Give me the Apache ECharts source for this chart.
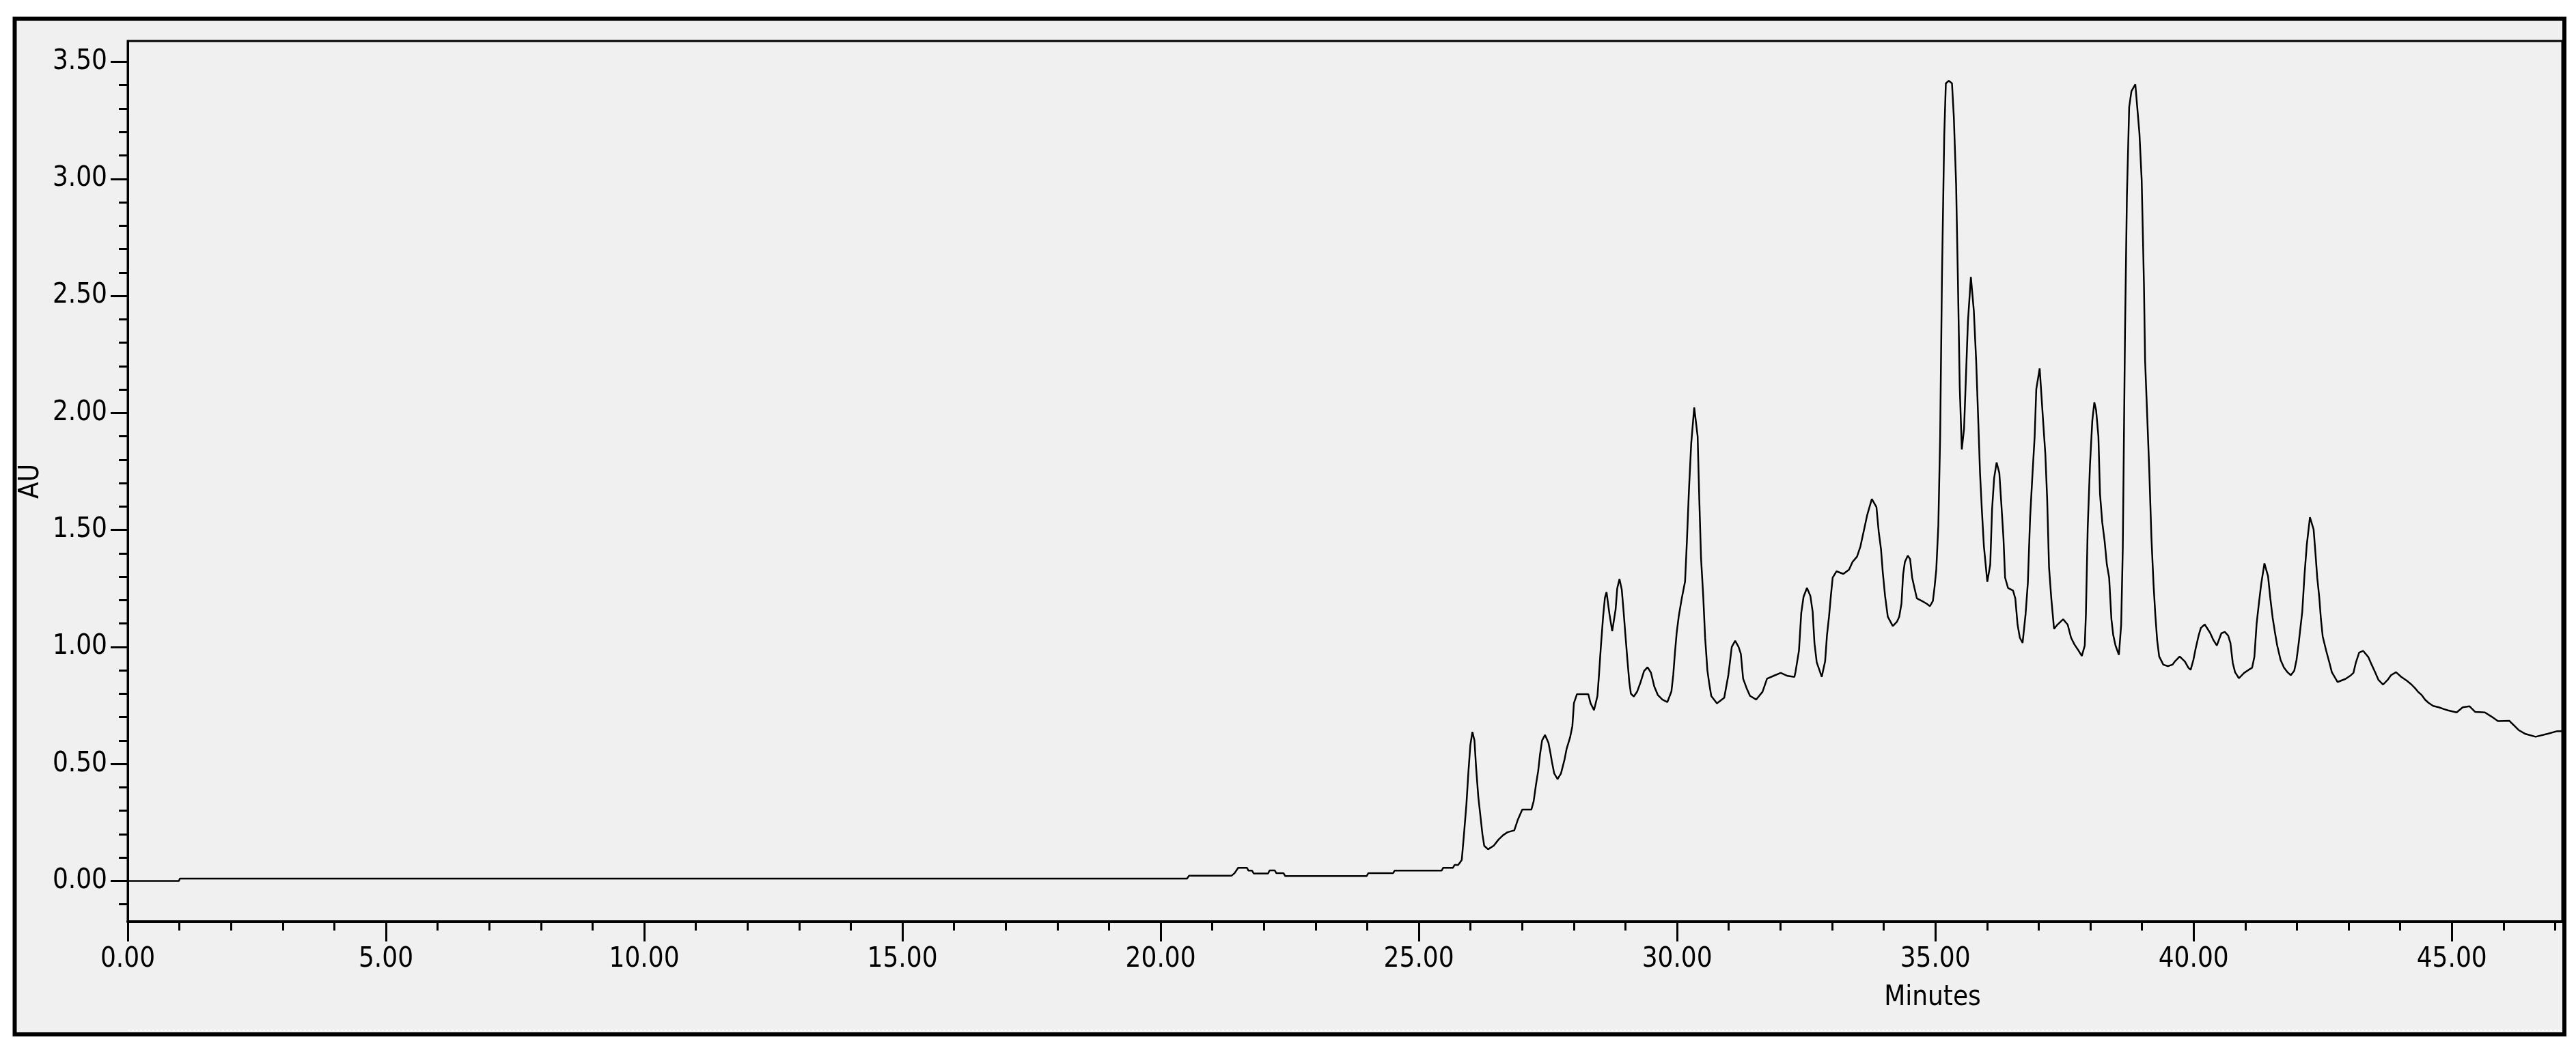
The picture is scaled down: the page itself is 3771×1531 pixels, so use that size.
<!DOCTYPE html>
<html>
<head>
<meta charset="utf-8">
<script src="https://cdn.jsdelivr.net/npm/echarts@6/dist/echarts.min.js"></script>
<style>
  html, body { margin: 0; padding: 0; background: #ffffff; }
  #chart { width: 3771px; height: 1531px; }
</style>
</head>
<body>
<div id="chart"></div>
<script>
// ---- data ----
const timeMin = [
  0, 0.99, 1.01, 20.51, 20.55, 21.37, 21.43, 21.50, 21.67, 21.70, 21.77, 21.80, 22.08, 22.11, 22.21, 22.24, 22.38, 22.41,
  23.99, 24.02, 24.50, 24.53, 25.44, 25.47, 25.66, 25.69, 25.76, 25.80, 25.83,
  25.85, 25.877, 25.921, 25.957, 25.996, 26.036, 26.076, 26.106, 26.150, 26.195, 26.230, 26.265, 26.340, 26.450, 26.539,
  26.627, 26.715, 26.847, 26.913, 27.001, 27.178, 27.222, 27.266, 27.310, 27.345, 27.385, 27.442, 27.509, 27.544, 27.575,
  27.619, 27.685, 27.751, 27.817, 27.861, 27.927, 27.972, 28.002, 28.060, 28.170, 28.280, 28.324, 28.391, 28.457, 28.487,
  28.523, 28.567, 28.602, 28.633, 28.690, 28.743, 28.809, 28.840, 28.884, 28.928, 28.964, 28.999, 29.039, 29.074, 29.105,
  29.162, 29.228, 29.294, 29.360, 29.427, 29.493, 29.559, 29.625, 29.713, 29.810, 29.890, 29.925, 29.956, 29.991, 30.031,
  30.088, 30.154, 30.189, 30.229, 30.273, 30.331, 30.397, 30.428, 30.463, 30.507, 30.542, 30.586, 30.617, 30.661, 30.771,
  30.912, 30.992, 31.058, 31.124, 31.190, 31.234, 31.278, 31.345, 31.411, 31.530, 31.653, 31.741, 31.874, 32.006, 32.138,
  32.271, 32.293, 32.359, 32.403, 32.448, 32.514, 32.580, 32.624, 32.659, 32.703, 32.800, 32.866, 32.902, 32.941, 32.977,
  33.012, 33.087, 33.219, 33.329, 33.396, 33.484, 33.550, 33.638, 33.682, 33.770, 33.859, 33.903, 33.947, 33.982, 34.026,
  34.079, 34.176, 34.255, 34.300, 34.344, 34.375, 34.410, 34.467, 34.511, 34.551, 34.595, 34.643, 34.740, 34.829, 34.895,
  34.952, 34.983, 35.018, 35.058, 35.093, 35.128, 35.172, 35.203, 35.261, 35.322, 35.358, 35.402, 35.437, 35.472, 35.512,
  35.556, 35.591, 35.631, 35.688, 35.745, 35.790, 35.830, 35.865, 35.900, 35.940, 36.006, 36.063, 36.098, 36.138, 36.186,
  36.239, 36.275, 36.319, 36.350, 36.407, 36.504, 36.548, 36.592, 36.636, 36.689, 36.747, 36.791, 36.835, 36.879, 36.923,
  36.954, 37.020, 37.086, 37.130, 37.165, 37.201, 37.245, 37.298, 37.364, 37.474, 37.562, 37.628, 37.694, 37.761, 37.836,
  37.893, 37.915, 37.950, 37.994, 38.039, 38.078, 38.113, 38.157, 38.188, 38.232, 38.277, 38.321, 38.365, 38.409, 38.444,
  38.488, 38.554, 38.598, 38.629, 38.673, 38.709, 38.753, 38.797, 38.872, 38.951, 38.995, 39.039, 39.061, 39.105, 39.140,
  39.184, 39.224, 39.259, 39.295, 39.334, 39.414, 39.502, 39.590, 39.634, 39.731, 39.833, 39.899, 39.943, 39.996, 40.040,
  40.097, 40.141, 40.216, 40.318, 40.384, 40.450, 40.538, 40.604, 40.670, 40.714, 40.759, 40.803, 40.878, 40.979, 41.067,
  41.133, 41.177, 41.221, 41.266, 41.310, 41.372, 41.442, 41.486, 41.530, 41.574, 41.619, 41.685, 41.751, 41.817, 41.883,
  41.949, 41.993, 42.037, 42.104, 42.148, 42.192, 42.253, 42.324, 42.359, 42.394, 42.434, 42.465, 42.500, 42.566, 42.632,
  42.677, 42.787, 42.941, 43.029, 43.095, 43.140, 43.206, 43.285, 43.382, 43.448, 43.514, 43.580, 43.669, 43.757, 43.823,
  43.920, 44.021, 44.132, 44.220, 44.286, 44.352, 44.418, 44.484, 44.550, 44.639, 44.749, 44.837, 44.925, 45.093, 45.212,
  45.344, 45.454, 45.640, 45.763, 45.895, 46.116, 46.160, 46.226, 46.292, 46.416, 46.623, 46.857, 47.042, 47.143
];
const absorbanceAU = [
  0, 0, 0.01, 0.01, 0.022, 0.022, 0.033, 0.056, 0.056, 0.044, 0.044, 0.032, 0.032, 0.045, 0.045, 0.033, 0.033, 0.021,
  0.021, 0.033, 0.033, 0.044, 0.044, 0.056, 0.056, 0.068, 0.068, 0.08, 0.09,
  0.14, 0.21, 0.33, 0.46, 0.58, 0.637, 0.60, 0.49, 0.36, 0.27, 0.20, 0.15, 0.135, 0.151, 0.176,
  0.195, 0.208, 0.216, 0.26, 0.305, 0.305, 0.34, 0.41, 0.47, 0.54, 0.60, 0.624, 0.59, 0.55, 0.51,
  0.46, 0.435, 0.459, 0.516, 0.565, 0.613, 0.662, 0.76, 0.798, 0.798, 0.798, 0.759, 0.73, 0.79, 0.88,
  1.00, 1.13, 1.21, 1.234, 1.14, 1.067, 1.16, 1.25, 1.29, 1.245, 1.15, 1.05, 0.94, 0.85, 0.80,
  0.788, 0.81, 0.85, 0.897, 0.913, 0.89, 0.83, 0.795, 0.775, 0.764, 0.81, 0.88, 0.97, 1.06, 1.13,
  1.205, 1.28, 1.45, 1.67, 1.87, 2.023, 1.90, 1.64, 1.38, 1.21, 1.04, 0.90, 0.85, 0.79, 0.759,
  0.783, 0.88, 1.00, 1.026, 1.00, 0.97, 0.864, 0.824, 0.791, 0.775, 0.808, 0.864, 0.877, 0.889, 0.876,
  0.872, 0.894, 0.984, 1.144, 1.214, 1.252, 1.218, 1.151, 1.017, 0.934, 0.872, 0.939, 1.051, 1.129, 1.218,
  1.296, 1.323, 1.312, 1.330, 1.363, 1.386, 1.43, 1.52, 1.565, 1.632, 1.598, 1.493, 1.419, 1.319, 1.218,
  1.129, 1.089, 1.107, 1.129, 1.185, 1.308, 1.363, 1.390, 1.375, 1.296, 1.252, 1.207, 1.196, 1.185, 1.174,
  1.196, 1.252, 1.330, 1.520, 1.90, 2.581, 3.185, 3.408, 3.419, 3.408, 3.263, 2.977, 2.566, 2.112, 1.844,
  1.933, 2.146, 2.391, 2.581, 2.436, 2.224, 1.971, 1.743, 1.587, 1.430, 1.278, 1.352, 1.587, 1.721, 1.788,
  1.743, 1.620, 1.464, 1.296, 1.252, 1.241, 1.207, 1.095, 1.039, 1.017, 1.140, 1.274, 1.553, 1.732, 1.900,
  2.101, 2.190, 1.967, 1.822, 1.632, 1.341, 1.207, 1.077, 1.095, 1.118, 1.095, 1.039, 1.010, 0.988, 0.961,
  1.006, 1.140, 1.509, 1.777, 1.967, 2.045, 2.011, 1.900, 1.654, 1.531, 1.453, 1.352, 1.296, 1.118, 1.051,
  1.006, 0.966, 1.095, 1.419, 2.358, 2.928, 3.307, 3.375, 3.404, 3.196, 2.995, 2.548, 2.224, 1.97, 1.765,
  1.465, 1.270, 1.137, 1.028, 0.959, 0.924, 0.918, 0.924, 0.937, 0.959, 0.937, 0.911, 0.902, 0.944, 0.993,
  1.048, 1.081, 1.096, 1.061, 1.029, 1.006, 1.058, 1.064, 1.048, 1.016, 0.931, 0.892, 0.866, 0.889, 0.902,
  0.911, 0.957, 1.100, 1.189, 1.270, 1.357, 1.302, 1.207, 1.126, 1.064, 1.006, 0.944, 0.911, 0.892, 0.879,
  0.898, 0.944, 1.019, 1.150, 1.309, 1.436, 1.554, 1.502, 1.403, 1.296, 1.211, 1.120, 1.045, 0.985, 0.931,
  0.892, 0.850, 0.863, 0.876, 0.889, 0.931, 0.976, 0.983, 0.957, 0.924, 0.892, 0.859, 0.839, 0.859, 0.879,
  0.892, 0.872, 0.855, 0.839, 0.824, 0.807, 0.794, 0.774, 0.761, 0.748, 0.742, 0.735, 0.729, 0.720, 0.742,
  0.746, 0.722, 0.720, 0.703, 0.683, 0.684, 0.674, 0.660, 0.645, 0.629, 0.616, 0.629, 0.640, 0.640
];
const xTickValues = [0, 5, 10, 15, 20, 25, 30, 35, 40, 45];
const yTickValues = [0, 0.5, 1.0, 1.5, 2.0, 2.5, 3.0, 3.5];
const xName = 'Minutes';
const yName = 'AU';

const FONT = '"Liberation Sans Narrow", "DejaVu Sans Condensed", "Liberation Sans", sans-serif';
const labelStyle = { color: '#000', fontSize: 40, fontFamily: FONT };

const chart = echarts.init(document.getElementById('chart'), null, { renderer: 'canvas', width: 3771, height: 1531 });
chart.setOption({
  animation: false,
  backgroundColor: '#ffffff',
  graphic: [
    { type: 'rect', z: -100, silent: true,
      shape: { x: 21.5, y: 27.5, width: 3732.5, height: 1486.5 },
      style: { fill: '#f0f0f0', stroke: null } },
    { type: 'line', z: 50, silent: true,
      shape: { x1: 187, y1: 1508, x2: 3751, y2: 1508 },
      style: { stroke: '#ffffff', lineWidth: 2, lineDash: [3, 3] } },
    { type: 'rect', z: 100, silent: true,
      shape: { x: 21.5, y: 27.5, width: 3732.5, height: 1486.5 },
      style: { fill: null, stroke: '#000', lineWidth: 6 } }
  ],
  grid: {
    left: 187, top: 60, right: 20, bottom: 182,
    show: true, backgroundColor: 'transparent', borderColor: '#000', borderWidth: 3
  },
  xAxis: {
    type: 'value', min: 0, max: 47.14, interval: 5,
    name: xName, nameLocation: 'middle', nameGap: 92,
    nameTextStyle: Object.assign({}, labelStyle, { padding: [0, 0, 0, 1720] }),
    axisLine: { show: true, onZero: false, lineStyle: { color: '#000', width: 4 } },
    axisTick: { show: true, length: 29, customValues: xTickValues, lineStyle: { color: '#000', width: 3 } },
    minorTick: { show: true, splitNumber: 5, length: 13, lineStyle: { color: '#000', width: 3 } },
    axisLabel: Object.assign({}, labelStyle, { customValues: xTickValues, margin: 36,
      formatter: v => Number(v).toFixed(2) }),
    splitLine: { show: false }, minorSplitLine: { show: false }
  },
  yAxis: {
    type: 'value', min: -0.174, max: 3.589, splitNumber: 7,
    name: yName, nameLocation: 'middle', nameGap: 119,
    nameTextStyle: labelStyle,
    axisLine: { show: true, onZero: false, lineStyle: { color: '#000', width: 3 } },
    axisTick: { show: true, length: 25, customValues: yTickValues, lineStyle: { color: '#000', width: 3 } },
    minorTick: { show: true, splitNumber: 5, length: 13, lineStyle: { color: '#000', width: 3 } },
    axisLabel: Object.assign({}, labelStyle, { customValues: yTickValues, margin: 30,
      formatter: v => Number(v).toFixed(2) }),
    splitLine: { show: false }, minorSplitLine: { show: false }
  },
  series: [{
    type: 'line',
    data: timeMin.map((t, i) => [t, absorbanceAU[i]]),
    showSymbol: false, symbol: 'none', clip: true,
    lineStyle: { color: '#000', width: 2.5 }
  }]
});
</script>
</body>
</html>
